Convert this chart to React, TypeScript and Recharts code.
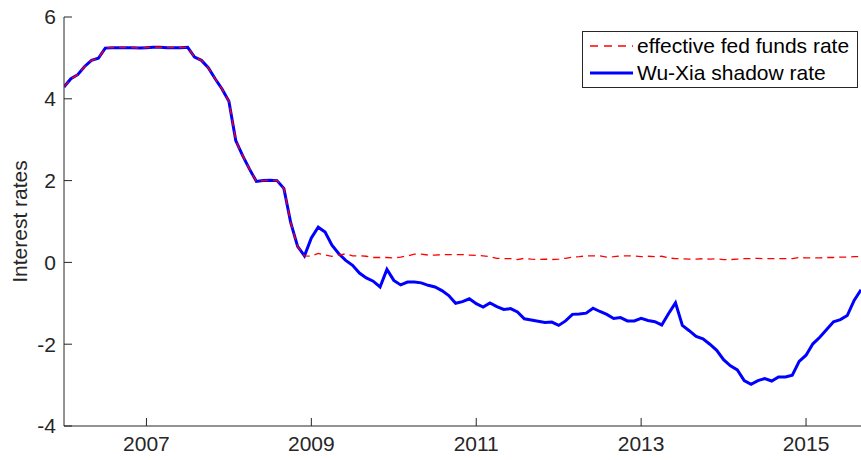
import { Legend, Line, LineChart, XAxis, YAxis } from "recharts";

const START_YEAR = 2006;
const SHADOW_START = 36; // Jan 2009, shadow rate equals the fed funds rate before that

// monthly effective fed funds rate, Jan 2006 .. Sep 2015
const FED_FUNDS = [
  4.29, 4.49, 4.59, 4.79, 4.94, 4.99, 5.24, 5.25, 5.25, 5.25, 5.25, 5.24,
  5.25, 5.26, 5.26, 5.25, 5.25, 5.25, 5.26, 5.02, 4.94, 4.76, 4.49, 4.24,
  3.94, 2.98, 2.61, 2.28, 1.98, 2.0, 2.01, 2.0, 1.81, 0.97, 0.39, 0.16,
  0.15, 0.22, 0.18, 0.15, 0.18, 0.21, 0.16, 0.16, 0.15, 0.12, 0.12, 0.12,
  0.11, 0.13, 0.16, 0.2, 0.2, 0.18, 0.18, 0.19, 0.19, 0.19, 0.19, 0.18,
  0.17, 0.16, 0.14, 0.1, 0.09, 0.09, 0.07, 0.1, 0.08, 0.07, 0.08, 0.07,
  0.08, 0.1, 0.13, 0.14, 0.16, 0.16, 0.16, 0.13, 0.14, 0.16, 0.16, 0.16,
  0.14, 0.15, 0.14, 0.15, 0.11, 0.09, 0.09, 0.08, 0.08, 0.09, 0.08, 0.09,
  0.07, 0.07, 0.08, 0.09, 0.09, 0.1, 0.09, 0.09, 0.09, 0.09, 0.09, 0.12,
  0.11, 0.11, 0.11, 0.12, 0.12, 0.13, 0.13, 0.14, 0.14
];

// Wu-Xia shadow rate, Jan 2009 .. Sep 2015
const SHADOW_FROM_2009 = [
  0.6, 0.86, 0.74, 0.42, 0.21, 0.05, -0.07, -0.26, -0.38, -0.46, -0.6, -0.17,
  -0.44, -0.55, -0.48, -0.48, -0.5, -0.56, -0.6, -0.69, -0.81, -1.0, -0.96, -0.89,
  -1.01, -1.09, -0.99, -1.08, -1.15, -1.13, -1.21, -1.38, -1.41, -1.44, -1.47, -1.46,
  -1.54, -1.43, -1.27, -1.26, -1.24, -1.12, -1.2, -1.27, -1.37, -1.35, -1.43, -1.43,
  -1.37, -1.42, -1.45, -1.53, -1.25, -0.99, -1.54, -1.67, -1.81, -1.87, -2.0, -2.15,
  -2.38, -2.53, -2.63, -2.89, -2.98, -2.89, -2.84, -2.9, -2.8, -2.8, -2.76, -2.42,
  -2.27, -1.99, -1.83, -1.64, -1.45, -1.4, -1.3, -0.93, -0.67
];

const X_TICKS = [2007, 2009, 2011, 2013, 2015];
const Y_TICKS = [-4, -2, 0, 2, 4, 6];

const FONT = "'Liberation Sans', Arial, Helvetica, sans-serif";
const FONT_SIZE = 21;
const AXIS = "#262626";

const rows = FED_FUNDS.map((ffr, i) => ({
  t: START_YEAR + i / 12,
  ffr,
  shadow: i < SHADOW_START ? ffr : SHADOW_FROM_2009[i - SHADOW_START]
}));

function LegendBox() {
  const item = (top: number, dashed: boolean, color: string, width: number, text: string) => (
    <div style={{ position: "absolute", left: 0, top: top - 14, height: 28, width: "100%" }}>
      <svg width={50} height={28} style={{ position: "absolute", left: 0, top: 0 }}>
        <line
          x1={7}
          x2={50}
          y1={14}
          y2={14}
          stroke={color}
          strokeWidth={width}
          strokeDasharray={dashed ? "8 6" : undefined}
        />
      </svg>
      <span style={{ position: "absolute", left: 54, top: 1, lineHeight: "26px", whiteSpace: "nowrap" }}>{text}</span>
    </div>
  );
  return (
    <div
      style={{
        position: "relative",
        width: 276,
        height: 57,
        boxSizing: "border-box",
        border: `1px solid ${AXIS}`,
        background: "#fff",
        fontFamily: FONT,
        fontSize: FONT_SIZE,
        color: "#000"
      }}
    >
      {item(14, true, "#ff0000", 1.3, "effective fed funds rate")}
      {item(41, false, "#0000ff", 3, "Wu-Xia shadow rate")}
    </div>
  );
}

export default function App() {
  return (
    <div style={{ position: "absolute", left: 0, top: 0, width: 861, height: 460, background: "#fff" }}>
      <LineChart width={861} height={460} data={rows} margin={{ top: 17, right: 0, bottom: 0, left: 0 }}>
        <XAxis
          dataKey="t"
          type="number"
          domain={[START_YEAR, START_YEAR + (FED_FUNDS.length - 1) / 12]}
          ticks={X_TICKS}
          interval={0}
          allowDataOverflow
          height={34}
          tickSize={-8}
          tickMargin={18}
          axisLine={{ stroke: AXIS }}
          tickLine={{ stroke: AXIS }}
          tick={{ fontSize: FONT_SIZE, fill: AXIS, fontFamily: FONT }}
        />
        <YAxis
          type="number"
          domain={[-4, 6]}
          ticks={Y_TICKS}
          interval={0}
          width={64}
          tickSize={-8}
          tickMargin={16}
          axisLine={{ stroke: AXIS }}
          tickLine={{ stroke: AXIS }}
          tick={{ fontSize: FONT_SIZE, fill: AXIS, fontFamily: FONT }}
          label={{
            content: (props: any) => {
              const vb = props.viewBox || { x: 0, y: 17, height: 409 };
              const x = vb.x + 27;
              const y = vb.y + vb.height / 2;
              return (
                <text
                  x={x}
                  y={y}
                  transform={`rotate(-90 ${x} ${y})`}
                  textAnchor="middle"
                  fontSize={FONT_SIZE}
                  fontFamily={FONT}
                  fill={AXIS}
                >
                  Interest rates
                </text>
              );
            }
          }}
        />
        <Legend
          layout="horizontal"
          verticalAlign="middle"
          align="center"
          wrapperStyle={{ position: "absolute", left: 582, top: 31, width: 276, height: 57 }}
          content={() => <LegendBox />}
        />
        <Line
          type="linear"
          dataKey="shadow"
          stroke="#0000ff"
          strokeWidth={3}
          dot={false}
          activeDot={false}
          isAnimationActive={false}
        />
        <Line
          type="linear"
          dataKey="ffr"
          stroke="#ff0000"
          strokeWidth={1.3}
          strokeDasharray="7 5"
          dot={false}
          activeDot={false}
          isAnimationActive={false}
        />
      </LineChart>
    </div>
  );
}
